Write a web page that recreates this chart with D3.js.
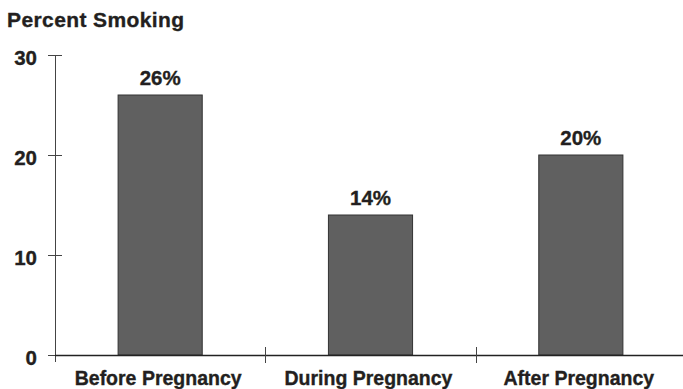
<!DOCTYPE html>
<html lang="en">
<head>
  <meta charset="UTF-8">
  <title>Percent Smoking</title>
  <script src="https://cdn.jsdelivr.net/npm/d3@7"></script>
  <style>
    body { margin: 0; background: #fff; }
    text {
      font-family: "Liberation Sans", Arial, sans-serif;
      font-weight: bold;
      fill: #231f20;
      stroke: #231f20;
      stroke-width: 0.35px;
    }
  </style>
</head>
<body>
<div id="chart"></div>
<script>
  // data
  var categories = ["Before Pregnancy", "During Pregnancy", "After Pregnancy"];
  var percents = [26, 14, 20];
  var yTicks = [0, 10, 20, 30];

  var width = 683, height = 389;
  var svg = d3.select("#chart").append("svg")
      .attr("width", width)
      .attr("height", height);

  var x = d3.scaleBand()
      .domain(categories)
      .range([55, 686])
      .padding(0);

  var y = d3.scaleLinear()
      .domain([0, 30])
      .range([355, 55]);

  var barW = x.bandwidth() * 0.4;

  // title
  svg.append("text")
      .attr("x", 7)
      .attr("y", 27)
      .style("font-size", "21px")
      .style("letter-spacing", "0.4px")
      .text("Percent Smoking");

  // y axis
  svg.append("line")
      .attr("x1", 55.5).attr("x2", 55.5)
      .attr("y1", y(30)).attr("y2", y(0) + 7)
      .attr("stroke", "#444").attr("stroke-width", 1);

  svg.selectAll("line.ytick").data(yTicks).enter().append("line")
      .attr("class", "ytick")
      .attr("x1", 48).attr("x2", 62)
      .attr("y1", d => y(d) + 0.5).attr("y2", d => y(d) + 0.5)
      .attr("stroke", "#444").attr("stroke-width", 1);

  svg.selectAll("text.ylab").data(yTicks).enter().append("text")
      .attr("class", "ylab")
      .attr("x", 37)
      .attr("y", d => y(d) + 9.5)
      .attr("text-anchor", "end")
      .style("font-size", "20.5px")
      .text(d => d);

  // bars
  svg.selectAll("rect.bar").data(percents).enter().append("rect")
      .attr("class", "bar")
      .attr("x", (d, i) => x(categories[i]) + (x.bandwidth() - barW) / 2)
      .attr("y", d => y(d))
      .attr("width", barW)
      .attr("height", d => y(0) - y(d))
      .attr("fill", "#606060")
      .attr("stroke", "#333")
      .attr("stroke-width", 1);

  svg.selectAll("text.val").data(percents).enter().append("text")
      .attr("class", "val")
      .attr("x", (d, i) => x(categories[i]) + x.bandwidth() / 2)
      .attr("y", d => y(d) - 10)
      .attr("text-anchor", "middle")
      .style("font-size", "20.5px")
      .text(d => d + "%");

  // x axis
  svg.append("line")
      .attr("x1", 55).attr("x2", width)
      .attr("y1", y(0) + 0.5).attr("y2", y(0) + 0.5)
      .attr("stroke", "#222").attr("stroke-width", 1.6);

  svg.selectAll("line.xtick").data(categories.slice(1)).enter().append("line")
      .attr("class", "xtick")
      .attr("x1", d => Math.round(x(d)) + 0.5).attr("x2", d => Math.round(x(d)) + 0.5)
      .attr("y1", y(0) - 8).attr("y2", y(0) + 8)
      .attr("stroke", "#444").attr("stroke-width", 1);

  svg.selectAll("text.xlab").data(categories).enter().append("text")
      .attr("class", "xlab")
      .attr("x", d => x(d) + x.bandwidth() / 2 - 2)
      .attr("y", 385)
      .attr("text-anchor", "middle")
      .style("font-size", "19.5px")
      .text(d => d);
</script>
</body>
</html>
